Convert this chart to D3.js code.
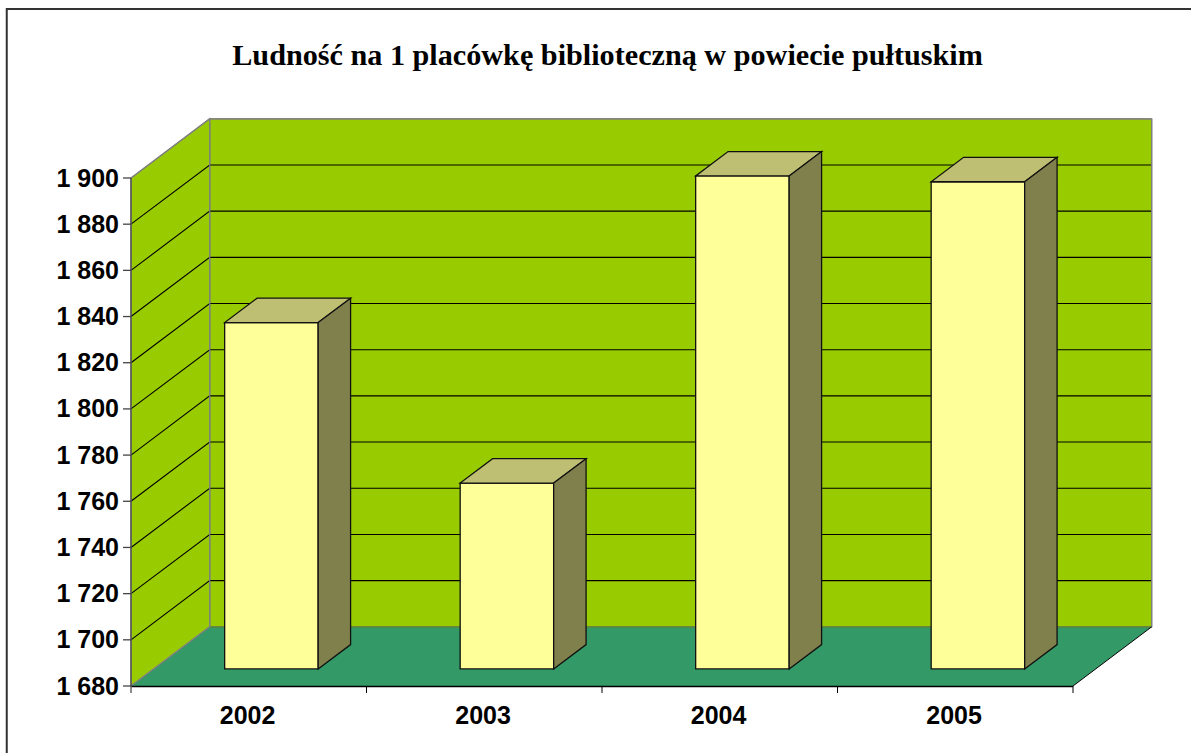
<!DOCTYPE html>
<html><head><meta charset="utf-8">
<script src="https://cdn.jsdelivr.net/npm/d3@7"></script>
<style>html,body{margin:0;padding:0;background:#fff}svg{display:block}</style></head>
<body><svg id="c" width="1191" height="753"></svg>
<script>
const titleText = "Ludność na 1 placówkę biblioteczną w powiecie pułtuskim";
const categories = ["2002","2003","2004","2005"];
const values = [1830, 1760.5, 1893.5, 1891];
const yTicks = [1680,1700,1720,1740,1760,1780,1800,1820,1840,1860,1880,1900];

const colors = {wall:"#99CC00", floor:"#339966", front:"#FFFF99", top:"#BFBF73", side:"#80804D", edge:"#808080"};
const svg = d3.select("#c");
const W = 1191, H = 753;
const line = d3.line();
const poly = (pts,fill,stroke,sw=1)=>svg.append("path").attr("d",line(pts)+"Z").attr("fill",fill).attr("stroke",stroke).attr("stroke-width",sw).attr("stroke-linejoin","miter");
const seg = (pts,stroke,sw=1)=>svg.append("path").attr("d",line(pts)).attr("fill","none").attr("stroke",stroke).attr("stroke-width",sw);

// frame: only the top and left edges fall inside the picture
seg([[6.75,H],[6.75,9],[W,9]],"#333",2);

const x = d3.scaleBand().domain(categories).range([131,1073]).paddingInner(0.603).paddingOuter(0.3015);
const y = d3.scaleLinear().domain([1680,1900]).range([686,178]);
const dx = 78.7, dy = -59.2;              // full chart depth
const barNear = 0.288, barFar = 0.70;     // bar position within the depth

const x0 = x.range()[0], x1 = x.range()[1], yb = y(1680), yt = y(1900);
// back wall, side wall, floor
poly([[x0+dx,yb+dy],[x1+dx,yb+dy],[x1+dx,yt+dy],[x0+dx,yt+dy]],colors.wall,colors.edge,1.2);
poly([[x0,yb],[x0+dx,yb+dy],[x0+dx,yt+dy],[x0,yt]],colors.wall,colors.edge,1.2);
poly([[x0,yb],[x1,yb],[x1+dx,yb+dy],[x0+dx,yb+dy]],colors.floor,"none");
seg([[x0+dx,yb+dy],[x1+dx,yb+dy]],"#66802A",1.2);
seg([[x0,yb],[x0+dx,yb+dy]],colors.edge,1.2);

// gridlines
yTicks.slice(1,-1).forEach(t=>{
  seg([[x0,y(t)],[x0+dx,y(t)+dy],[x1+dx,y(t)+dy]],"#000",1.1);
});
seg([[x0+dx,y(1900)+dy],[x1+dx,y(1900)+dy]],colors.edge,1.2);
seg([[x0,y(1900)],[x0+dx,y(1900)+dy]],colors.edge,1.2);
seg([[x0+dx,yb+dy],[x0+dx,yt+dy]],colors.edge,1.2);
seg([[x1+dx,yb+dy],[x1+dx,yt+dy]],colors.edge,1.2);
seg([[x0,yb],[x0,yt]],"#555",1.5);

// floor front edges + ticks
seg([[x0,yb+.5],[x1,yb+.5]],"#000",1.3);
seg([[x1,yb],[x1+dx,yb+dy]],"#000",1);
const xEdges = [...categories.slice(1).map(c=>x(c)-x.step()*x.paddingInner()/2), x1];
xEdges.forEach(e=>seg([[e,yb],[e,yb+7]],"#000",1));
seg([[x0,yb],[x0,yb+7]],"#666",1.5);
yTicks.forEach(t=>seg([[x0-8,y(t)],[x0,y(t)]],"#444",1.3));

// bars
categories.forEach((c,i)=>{
  const n = {x:dx*barNear,y:dy*barNear}, f = {x:dx*(barFar-barNear),y:dy*(barFar-barNear)};
  const l = x(c)+n.x, r = l+x.bandwidth(), b = yb+n.y, t = y(values[i])+n.y;
  poly([[l,b],[r,b],[r,t],[l,t]],colors.front,"#111",1.3);
  poly([[l,t],[r,t],[r+f.x,t+f.y],[l+f.x,t+f.y]],colors.top,"#111",1.3);
  poly([[r,b],[r+f.x,b+f.y],[r+f.x,t+f.y],[r,t]],colors.side,"#111",1.3);
});

// labels
const fmt = v => { const s = String(v); return s[0]+" "+s.slice(1); };
svg.append("g").selectAll("text").data(yTicks).join("text")
  .attr("x",119).attr("y",d=>y(d)+8.5).attr("text-anchor","end")
  .attr("font-family","'Liberation Sans',Arial,sans-serif").attr("font-weight","bold").attr("font-size",25)
  .attr("fill","#000").text(fmt);
svg.append("g").selectAll("text").data(categories).join("text")
  .attr("x",c=>x(c)+x.bandwidth()/2-1.2).attr("y",723.5).attr("text-anchor","middle")
  .attr("font-family","'Liberation Sans',Arial,sans-serif").attr("font-weight","bold").attr("font-size",25)
  .attr("fill","#000").text(d=>d);
svg.append("text").attr("x",607.5).attr("y",65).attr("text-anchor","middle")
  .attr("font-family","'Liberation Serif','Times New Roman',serif").attr("font-weight","bold").attr("font-size",30.2)
  .attr("fill","#000").text(titleText);
</script></body></html>
